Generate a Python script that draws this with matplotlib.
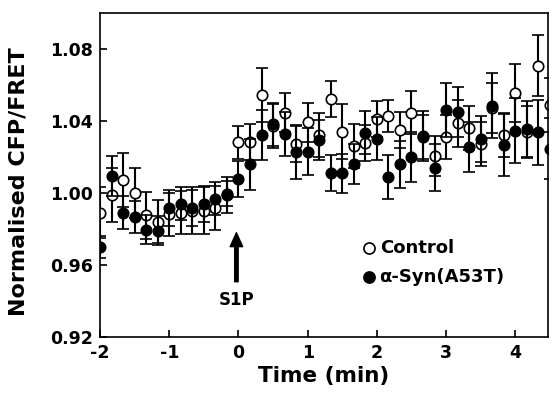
import matplotlib
matplotlib.use("Agg")
import matplotlib.pyplot as plt

plt.rcParams['font.family'] = ['DejaVu Sans']
plt.rcParams['axes.unicode_minus'] = False

# time points (min), 10 s apart
time = [-2.0, -1.833, -1.667, -1.5, -1.333, -1.167, -1.0, -0.833, -0.667, -0.5,
        -0.333, -0.167, 0.0, 0.167, 0.333, 0.5, 0.667, 0.833, 1.0, 1.167,
        1.333, 1.5, 1.667, 1.833, 2.0, 2.167, 2.333, 2.5, 2.667, 2.833,
        3.0, 3.167, 3.333, 3.5, 3.667, 3.833, 4.0, 4.167, 4.333, 4.5]

control = [0.989, 0.999, 1.007, 1.000, 0.9875, 0.984, 0.988, 0.989, 0.990, 0.990,
           0.9915, 0.999, 1.028, 1.028, 1.054, 1.037, 1.0445, 1.027, 1.039, 1.032,
           1.052, 1.034, 1.026, 1.0275, 1.041, 1.0427, 1.035, 1.0445, 1.031, 1.0205,
           1.031, 1.0386, 1.036, 1.027, 1.047, 1.032, 1.0555, 1.034, 1.0706, 1.0488]
control_err = [0.014, 0.015, 0.015, 0.014, 0.013, 0.012, 0.012, 0.012, 0.013, 0.013,
               0.012, 0.010, 0.009, 0.010, 0.015, 0.012, 0.011, 0.010, 0.011, 0.012,
               0.010, 0.015, 0.012, 0.010, 0.010, 0.009, 0.010, 0.012, 0.012, 0.011,
               0.012, 0.013, 0.012, 0.012, 0.014, 0.012, 0.016, 0.014, 0.017, 0.015]

syn = [0.970, 1.0094, 0.989, 0.9865, 0.9795, 0.979, 0.9917, 0.994, 0.9917, 0.9936,
       0.9967, 0.9995, 1.0074, 1.0157, 1.032, 1.038, 1.0326, 1.0228, 1.0228, 1.0293,
       1.011, 1.0107, 1.0158, 1.0334, 1.030, 1.0087, 1.0158, 1.020, 1.0315, 1.0138,
       1.046, 1.0447, 1.0255, 1.0298, 1.0484, 1.0265, 1.0345, 1.0352, 1.0335, 1.0245]
syn_err = [0.006, 0.011, 0.009, 0.009, 0.008, 0.008, 0.010, 0.009, 0.010, 0.010,
           0.009, 0.007, 0.010, 0.014, 0.014, 0.012, 0.012, 0.015, 0.013, 0.011,
           0.010, 0.011, 0.011, 0.012, 0.012, 0.012, 0.013, 0.014, 0.014, 0.013,
           0.015, 0.014, 0.014, 0.013, 0.018, 0.017, 0.018, 0.016, 0.018, 0.017]

xticks = [-2, -1, 0, 1, 2, 3, 4]
yticks = [0.92, 0.96, 1.00, 1.04, 1.08]

fig = plt.figure(figsize=(5.5, 3.94), dpi=100)
ax = fig.add_axes([0.182, 0.145, 0.814, 0.823])

ax.errorbar(time, control, yerr=control_err, fmt='o', color='black', mfc='white',
            mec='black', ms=7.5, mew=1.2, elinewidth=1.5, capsize=4.5, capthick=1.5,
            zorder=2)
ax.errorbar(time, syn, yerr=syn_err, fmt='o', color='black', mfc='black',
            mec='black', ms=7.5, mew=1.2, elinewidth=1.5, capsize=4.5, capthick=1.5,
            zorder=3)

ax.set_xlim(-2.0, 4.47)
ax.set_ylim(0.92, 1.10)
ax.set_xticks(xticks)
ax.set_xticklabels([str(v) for v in xticks])
ax.set_yticks(yticks)
ax.set_yticklabels(['%.2f' % v for v in yticks])
ax.tick_params(direction='in', length=5, width=1.2, labelsize=12.5, pad=5)
for lab in ax.get_xticklabels() + ax.get_yticklabels():
    lab.set_fontweight('bold')
for s in ax.spines.values():
    s.set_linewidth(1.2)

ax.set_xlabel('Time (min)', fontsize=15.5, fontweight='bold', labelpad=3)
ax.set_ylabel('Normalised CFP/FRET', fontsize=16, fontweight='bold')
ax.yaxis.set_label_coords(-0.16, 0.48)

# S1P arrow
ax.annotate('', xy=(-0.03, 0.9778), xytext=(-0.03, 0.9506),
            arrowprops=dict(facecolor='black', edgecolor='black', width=2.5,
                            headwidth=9, headlength=10))
ax.text(-0.03, 0.9406, 'S1P', ha='center', va='center', fontsize=12, fontweight='bold')

# legend
ax.plot([1.89], [0.9693], 'o', mfc='white', mec='black', ms=8, mew=1.2, clip_on=False)
ax.plot([1.89], [0.9533], 'o', mfc='black', mec='black', ms=8, mew=1.2, clip_on=False)
ax.text(2.05, 0.9693, 'Control', ha='left', va='center', fontsize=13, fontweight='bold')
ax.text(2.03, 0.9533, 'α-Syn(A53T)', ha='left', va='center', fontsize=13, fontweight='bold')

fig.savefig('out.png', dpi=100)
